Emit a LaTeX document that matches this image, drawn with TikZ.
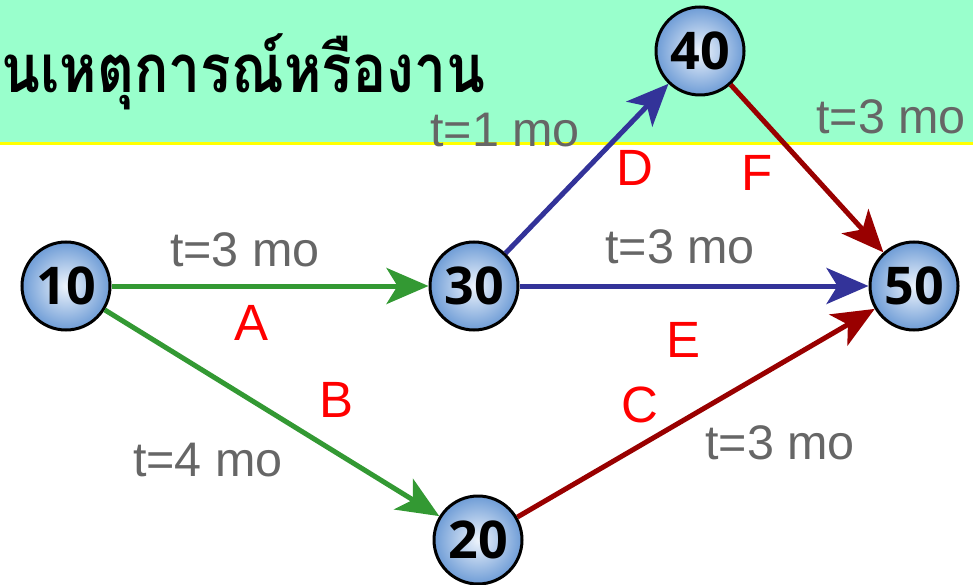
\documentclass[tikz,border=0pt]{standalone}
\usepackage{fontspec}
\setmainfont{Liberation Sans}
\newfontfamily\numfont{Open Sans}
\newfontfamily\thaifont[Script=Thai]{Loma}
\usetikzlibrary{arrows.meta}
\definecolor{bandgreen}{HTML}{99FFCC}
\definecolor{bandyellow}{HTML}{FFFF00}
\definecolor{actgreen}{HTML}{339933}
\definecolor{actblue}{HTML}{333399}
\definecolor{actred}{HTML}{990000}
\definecolor{lblgray}{HTML}{666666}
\definecolor{letred}{HTML}{FF0000}
\definecolor{ballin}{HTML}{EEF4FC}
\definecolor{ballout}{HTML}{6E9CD6}
\tikzset{
  event/.style={circle, draw=black, line width=3pt, minimum size=88pt, inner sep=0pt,
    inner color=ballin, outer color=ballout, font=\numfont\bfseries\fontsize{52}{52}\selectfont},
  act/.style={line width=5pt, -{Stealth[length=42pt,width=36pt,inset=11pt]}},
  dur/.style={text=lblgray, font=\fontsize{48.5}{48.5}\selectfont, inner sep=0pt},
  letter/.style={text=letred, font=\fontsize{51}{51}\selectfont, inner sep=0pt},
}
\begin{document}
\begin{tikzpicture}[x=1pt,y=-1pt]
\useasboundingbox (0,0) rectangle (973,585);
\fill[bandgreen] (0,0) rectangle (973,143);
\fill[bandyellow] (0,142) rectangle (973,145);
\node[anchor=base west, inner sep=0pt, font=\thaifont\bfseries\fontsize{67}{67}\selectfont] (title) at (1,93) {\scalebox{0.85}[1]{นเหตุการณ์หรืองาน}};
% labels
\node[dur] (l1) at (505,130) {t=1 mo};
\node[dur] (l2) at (891,117) {t=3 mo};
\node[dur] (l3) at (245,250) {t=3 mo};
\node[dur] (l4) at (680,247) {t=3 mo};
\node[dur] (l5) at (208,460) {t=4 mo};
\node[dur] (l6) at (780,443) {t=3 mo};
\node[letter] (lA) at (252,323) {A};
\node[letter] (lB) at (337,400) {B};
\node[letter] (lC) at (640,405) {C};
\node[letter] (lD) at (635,168) {D};
\node[letter] (lE) at (683,340) {E};
\node[letter] (lF) at (757,173) {F};
% events
\node[event] (n10) at (66,286) {10};
\node[event] (n30) at (474,286) {30};
\node[event] (n40) at (700,51) {40};
\node[event] (n20) at (478,540) {20};
\node[event] (n50) at (914,286) {50};
% activities
\draw[act, actgreen] (n10) -- (n30);
\draw[act, actgreen] (n10) -- (n20);
\draw[act, actblue] (n30) -- (n40);
\draw[act, actblue] (n30) -- (n50);
\draw[act, actred] (n40) -- (n50);
\draw[act, actred] (n20) -- (n50);
\end{tikzpicture}
\end{document}
